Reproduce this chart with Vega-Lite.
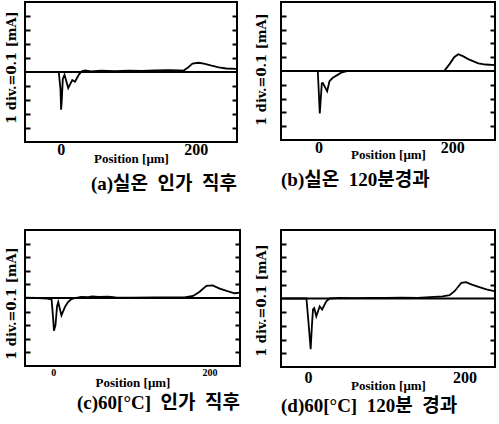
{
  "$schema": "https://vega.github.io/schema/vega-lite/v6.json",
  "padding": {"left": 4, "top": 1, "right": 1, "bottom": 0},
  "background": "white",
  "config": {
    "view": {"stroke": "black", "strokeWidth": 2},
    "axis": {"grid": false},
    "title": {"font": "Liberation Serif, Noto Sans CJK KR", "fontWeight": "bold", "fontSize": 19, "color": "black"}
  },
  "datasets": {
    "a": [
      {"x": -53, "y": 0}, {"x": -3, "y": 0}, {"x": -0.5, "y": -0.12}, {"x": 0.5, "y": -0.27}, {"x": 1.5, "y": -0.2},
      {"x": 3, "y": -0.05}, {"x": 5.5, "y": -0.02}, {"x": 11, "y": -0.115}, {"x": 17, "y": -0.057}, {"x": 21, "y": -0.07},
      {"x": 27, "y": -0.017}, {"x": 31, "y": 0.005}, {"x": 36, "y": 0.012}, {"x": 45, "y": 0.005}, {"x": 60, "y": 0.01},
      {"x": 80, "y": 0.006}, {"x": 100, "y": 0.01}, {"x": 120, "y": 0.008}, {"x": 140, "y": 0.012}, {"x": 160, "y": 0.014},
      {"x": 175, "y": 0.012}, {"x": 182, "y": 0.01}, {"x": 188, "y": 0.03}, {"x": 195, "y": 0.06}, {"x": 204, "y": 0.066},
      {"x": 212, "y": 0.06}, {"x": 222, "y": 0.047}, {"x": 234, "y": 0.033}, {"x": 245, "y": 0.025}, {"x": 261, "y": 0.022}
    ],
    "b": [
      {"x": -56, "y": 0}, {"x": -1, "y": 0}, {"x": 0.5, "y": -0.15}, {"x": 2, "y": -0.307}, {"x": 3.5, "y": -0.2},
      {"x": 5, "y": -0.09}, {"x": 6.5, "y": -0.086}, {"x": 9, "y": -0.11}, {"x": 13, "y": -0.147}, {"x": 16.5, "y": -0.074},
      {"x": 21.5, "y": -0.049}, {"x": 28, "y": -0.03}, {"x": 34, "y": -0.012}, {"x": 44, "y": 0}, {"x": 100, "y": 0},
      {"x": 188, "y": 0}, {"x": 196, "y": 0.05}, {"x": 203, "y": 0.1}, {"x": 209, "y": 0.122}, {"x": 216, "y": 0.108},
      {"x": 224, "y": 0.086}, {"x": 232, "y": 0.07}, {"x": 239, "y": 0.056}, {"x": 250, "y": 0.047}, {"x": 264, "y": 0.042}
    ],
    "c": [
      {"x": -36, "y": 0.002}, {"x": -20, "y": 0}, {"x": -8, "y": -0.005}, {"x": -2, "y": -0.01}, {"x": 0, "y": -0.15},
      {"x": 1, "y": -0.24}, {"x": 3, "y": -0.2}, {"x": 5, "y": -0.06}, {"x": 6.5, "y": -0.03}, {"x": 10.6, "y": -0.128},
      {"x": 15, "y": -0.067}, {"x": 19, "y": -0.03}, {"x": 23, "y": -0.01}, {"x": 27.7, "y": 0}, {"x": 36, "y": 0.008},
      {"x": 45, "y": 0.006}, {"x": 50, "y": 0.012}, {"x": 58, "y": 0.008}, {"x": 70, "y": 0.01}, {"x": 80, "y": 0.004},
      {"x": 100, "y": 0.003}, {"x": 130, "y": 0.004}, {"x": 150, "y": 0.005}, {"x": 168, "y": 0.005}, {"x": 179, "y": 0.015},
      {"x": 187, "y": 0.044}, {"x": 196, "y": 0.089}, {"x": 204, "y": 0.093}, {"x": 213, "y": 0.069}, {"x": 223, "y": 0.05},
      {"x": 232, "y": 0.035}, {"x": 239, "y": 0.04}
    ],
    "d": [
      {"x": -34.5, "y": 0}, {"x": -2, "y": 0}, {"x": 1, "y": -0.2}, {"x": 3.4, "y": -0.37}, {"x": 5, "y": -0.2},
      {"x": 6.4, "y": -0.08}, {"x": 8, "y": -0.07}, {"x": 10.6, "y": -0.13}, {"x": 15, "y": -0.057}, {"x": 18, "y": -0.08},
      {"x": 23.4, "y": -0.02}, {"x": 27.7, "y": 0}, {"x": 40, "y": 0.004}, {"x": 60, "y": 0.003}, {"x": 80, "y": 0.005},
      {"x": 100, "y": 0.004}, {"x": 120, "y": 0.006}, {"x": 140, "y": 0.005}, {"x": 161, "y": 0.012}, {"x": 172, "y": 0.016},
      {"x": 181, "y": 0.024}, {"x": 187.6, "y": 0.055}, {"x": 196, "y": 0.115}, {"x": 202, "y": 0.12}, {"x": 208.6, "y": 0.103},
      {"x": 217, "y": 0.086}, {"x": 228, "y": 0.067}, {"x": 236.5, "y": 0.055}, {"x": 239, "y": 0.054}
    ]
  },
  "columns": 2,
  "align": {"row": "none", "column": "each"},
  "spacing": {"row": 34, "column": 12},
  "concat": [
    {
      "width": 212, "height": 140,
      "title": {"text": "(a)실온\u2002인가\u2002직후", "orient": "bottom", "anchor": "end", "frame": "group", "offset": 10},
      "resolve": {"axis": {"y": "independent"}},
      "layer": [
        {
          "data": {"values": [{}]},
          "mark": {"type": "rule", "strokeWidth": 2, "color": "black"},
          "encoding": {"y": {"datum": 0, "type": "quantitative", "scale": {"domain": [-0.5, 0.5], "nice": false},
            "axis": {"orient": "left", "offset": -5, "title": "1 div.=0.1 [mA]", "titleFont": "DejaVu Serif", "titleFontSize": 13, "titleFontWeight": "bold", "titleColor": "black", "titlePadding": 6, "titleY": 65, "labels": false, "domain": false, "tickSize": 5, "tickWidth": 2, "tickColor": "black", "values": [-0.4, -0.3, -0.2, -0.1, 0.1, 0.2, 0.3, 0.4]}}}
        },
        {
          "data": {"name": "a"},
          "mark": {"type": "line", "strokeWidth": 1.8, "color": "black", "clip": true},
          "encoding": {
            "x": {"field": "x", "type": "quantitative", "scale": {"domain": [-53, 261], "nice": false, "zero": false},
              "axis": {"orient": "bottom", "values": [0, 200], "ticks": false, "domain": false, "labelFlush": false, "labelFont": "Liberation Serif", "labelFontWeight": "bold", "labelFontSize": 16, "labelColor": "black", "labelPadding": -1, "title": "Position [μm]", "titleFont": "Liberation Serif", "titleFontWeight": "bold", "titleFontSize": 13, "titleColor": "black", "titleY": 10}},
            "y": {"field": "y", "type": "quantitative", "scale": {"domain": [-0.5, 0.5], "nice": false},
              "axis": {"orient": "right", "offset": -5, "title": null, "labels": false, "domain": false, "tickSize": 5, "tickWidth": 2, "tickColor": "black", "values": [-0.4, -0.3, -0.2, -0.1, 0.1, 0.2, 0.3, 0.4]}}
          }
        }
      ]
    },
    {
      "width": 214, "height": 138,
      "title": {"text": "(b)실온\u2002120분경과", "orient": "bottom", "anchor": "start", "frame": "group", "offset": 10},
      "resolve": {"axis": {"y": "independent"}},
      "layer": [
        {
          "data": {"values": [{}]},
          "mark": {"type": "rule", "strokeWidth": 2, "color": "black"},
          "encoding": {"y": {"datum": 0, "type": "quantitative", "scale": {"domain": [-0.5, 0.5], "nice": false},
            "axis": {"orient": "left", "offset": -5, "title": "1 div.=0.1 [mA]", "titleFont": "DejaVu Serif", "titleFontSize": 13, "titleFontWeight": "bold", "titleColor": "black", "titlePadding": 12, "titleY": 67, "labels": false, "domain": false, "tickSize": 5, "tickWidth": 2, "tickColor": "black", "values": [-0.4, -0.3, -0.2, -0.1, 0.1, 0.2, 0.3, 0.4]}}}
        },
        {
          "data": {"name": "b"},
          "mark": {"type": "line", "strokeWidth": 1.8, "color": "black", "clip": true},
          "encoding": {
            "x": {"field": "x", "type": "quantitative", "scale": {"domain": [-56, 264], "nice": false, "zero": false},
              "axis": {"orient": "bottom", "values": [0, 200], "ticks": false, "domain": false, "labelFlush": false, "labelFont": "Liberation Serif", "labelFontWeight": "bold", "labelFontSize": 16, "labelColor": "black", "labelPadding": -1, "title": "Position [μm]", "titleFont": "Liberation Serif", "titleFontWeight": "bold", "titleFontSize": 13, "titleColor": "black", "titleY": 8}},
            "y": {"field": "y", "type": "quantitative", "scale": {"domain": [-0.5, 0.5], "nice": false},
              "axis": {"orient": "right", "offset": -5, "title": null, "labels": false, "domain": false, "tickSize": 5, "tickWidth": 2, "tickColor": "black", "values": [-0.4, -0.3, -0.2, -0.1, 0.1, 0.2, 0.3, 0.4]}}
          }
        }
      ]
    },
    {
      "width": 215, "height": 136,
      "title": {"text": "(c)60[°C]\u2002인가\u2002직후", "orient": "bottom", "anchor": "end", "frame": "group", "offset": 5},
      "resolve": {"axis": {"y": "independent"}},
      "layer": [
        {
          "data": {"values": [{}]},
          "mark": {"type": "rule", "strokeWidth": 2, "color": "black"},
          "encoding": {"y": {"datum": 0, "type": "quantitative", "scale": {"domain": [-0.5, 0.5], "nice": false},
            "axis": {"orient": "left", "offset": -5, "title": "1 div.=0.1 [mA]", "titleFont": "DejaVu Serif", "titleFontSize": 13, "titleFontWeight": "bold", "titleColor": "black", "titlePadding": 6, "titleY": 73, "labels": false, "domain": false, "tickSize": 5, "tickWidth": 2, "tickColor": "black", "values": [-0.4, -0.3, -0.2, -0.1, 0.1, 0.2, 0.3, 0.4]}}}
        },
        {
          "data": {"name": "c"},
          "mark": {"type": "line", "strokeWidth": 1.8, "color": "black", "clip": true},
          "encoding": {
            "x": {"field": "x", "type": "quantitative", "scale": {"domain": [-36, 239], "nice": false, "zero": false},
              "axis": {"orient": "bottom", "values": [0, 200], "ticks": false, "domain": false, "labelFlush": false, "labelFont": "Liberation Serif", "labelFontWeight": "bold", "labelFontSize": 10, "labelColor": "black", "labelPadding": 1, "title": "Position [μm]", "titleFont": "Liberation Serif", "titleFontWeight": "bold", "titleFontSize": 13, "titleColor": "black", "titleY": 10}},
            "y": {"field": "y", "type": "quantitative", "scale": {"domain": [-0.5, 0.5], "nice": false},
              "axis": {"orient": "right", "offset": -5, "title": null, "labels": false, "domain": false, "tickSize": 5, "tickWidth": 2, "tickColor": "black", "values": [-0.4, -0.3, -0.2, -0.1, 0.1, 0.2, 0.3, 0.4]}}
          }
        }
      ]
    },
    {
      "width": 214, "height": 137,
      "title": {"text": "(d)60[°C]\u2002120분\u2002경과", "orient": "bottom", "anchor": "start", "frame": "group", "offset": 5},
      "resolve": {"axis": {"y": "independent"}},
      "layer": [
        {
          "data": {"values": [{}]},
          "mark": {"type": "rule", "strokeWidth": 2, "color": "black"},
          "encoding": {"y": {"datum": 0, "type": "quantitative", "scale": {"domain": [-0.5, 0.5], "nice": false},
            "axis": {"orient": "left", "offset": -5, "title": "1 div.=0.1 [mA]", "titleFont": "DejaVu Serif", "titleFontSize": 13, "titleFontWeight": "bold", "titleColor": "black", "titlePadding": 12, "titleY": 70, "labels": false, "domain": false, "tickSize": 5, "tickWidth": 2, "tickColor": "black", "values": [-0.4, -0.3, -0.2, -0.1, 0.1, 0.2, 0.3, 0.4]}}}
        },
        {
          "data": {"name": "d"},
          "mark": {"type": "line", "strokeWidth": 1.8, "color": "black", "clip": true},
          "encoding": {
            "x": {"field": "x", "type": "quantitative", "scale": {"domain": [-34.5, 239], "nice": false, "zero": false},
              "axis": {"orient": "bottom", "values": [0, 200], "ticks": false, "domain": false, "labelFlush": false, "labelFont": "Liberation Serif", "labelFontWeight": "bold", "labelFontSize": 16, "labelColor": "black", "labelPadding": 2, "title": "Position [μm]", "titleFont": "Liberation Serif", "titleFontWeight": "bold", "titleFontSize": 13, "titleColor": "black", "titleY": 12}},
            "y": {"field": "y", "type": "quantitative", "scale": {"domain": [-0.5, 0.5], "nice": false},
              "axis": {"orient": "right", "offset": -5, "title": null, "labels": false, "domain": false, "tickSize": 5, "tickWidth": 2, "tickColor": "black", "values": [-0.4, -0.3, -0.2, -0.1, 0.1, 0.2, 0.3, 0.4]}}
          }
        }
      ]
    }
  ]
}
